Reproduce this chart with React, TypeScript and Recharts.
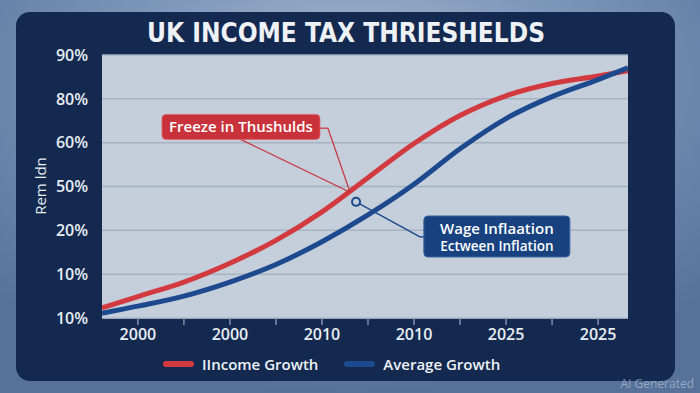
import {
  LineChart,
  Line,
  XAxis,
  YAxis,
  CartesianGrid,
  ReferenceLine,
  ReferenceDot,
} from 'recharts';

// x positions on the year axis (tick index), values on the label-index scale
const xPos = [-0.78, 0, 1, 2, 3, 4, 5, 6, 7, 8, 9, 10, 10.65];
const incomeGrowth = [0.23, 0.49, 0.82, 1.25, 1.77, 2.42, 3.2, 3.98, 4.62, 5.07, 5.35, 5.52, 5.64];
const averageGrowth = [0.11, 0.27, 0.5, 0.82, 1.22, 1.74, 2.35, 3.05, 3.86, 4.55, 5.05, 5.44, 5.71];

const yTickLabels = ['10%', '10%', '20%', '50%', '60%', '80%', '90%'];
const xTickLabels = ['2000', '', '2000', '', '2010', '', '2010', '', '2025', '', '2025'];

const seriesNames = ['IIncome Growth', 'Average Growth'];
const RED = '#d33a40';
const BLUE = '#1d4a8e';
const FONT = '"Open Sans", "DejaVu Sans", sans-serif';

const data = xPos.map((x, i) => ({
  x,
  income: incomeGrowth[i],
  average: averageGrowth[i],
}));

// annotation anchors, in data coordinates
const freezeBox = { x: 2.24, y: 4.36, text: 'Freeze in Thushulds' };
const freezeLines = [
  [{ x: 2.22, y: 4.08 }, { x: 4.61, y: 2.87 }],
  [{ x: 3.96, y: 4.33 }, { x: 4.13, y: 4.33 }],
  [{ x: 4.13, y: 4.33 }, { x: 4.61, y: 2.87 }],
];
const wagePoint = { x: 4.74, y: 2.65 };
const wageLines = [
  [{ x: 4.74, y: 2.65 }, { x: 6.13, y: 1.85 }],
  [{ x: 6.13, y: 1.85 }, { x: 6.24, y: 1.85 }],
];
const wageBox = { x: 7.8, y: 1.86, lines: ['Wage Inflaation', 'Ectween Inflation'] };

function FreezeLabel(props: any) {
  const { cx, cy } = props;
  const w = 158;
  const h = 25;
  return (
    <g>
      <rect x={cx - w / 2} y={cy - h / 2} width={w} height={h} rx={4} fill="#c9323a" stroke="#e0666b" strokeWidth={0.8} />
      <text x={cx} y={cy + 5.5} textAnchor="middle" fill="#ffffff" fontSize={15} fontWeight={600} fontFamily={FONT}>
        {freezeBox.text}
      </text>
    </g>
  );
}

function WageLabel(props: any) {
  const { cx, cy } = props;
  const w = 146;
  const h = 41;
  return (
    <g>
      <rect x={cx - w / 2} y={cy - h / 2} width={w} height={h} rx={4} fill="#17427f" stroke="#3a64a0" strokeWidth={1} />
      <text x={cx} y={cy - 2.5} textAnchor="middle" fill="#ffffff" fontSize={15} fontWeight={600} fontFamily={FONT}>
        {wageBox.lines[0]}
      </text>
      <text x={cx} y={cy + 14.5} textAnchor="middle" fill="#ffffff" fontSize={13.5} fontWeight={600} fontFamily={FONT}>
        {wageBox.lines[1]}
      </text>
    </g>
  );
}

export default function App() {
  return (
    <div
      style={{
        position: 'absolute',
        left: 0,
        top: 0,
        width: 700,
        height: 393,
        overflow: 'hidden',
        background: 'radial-gradient(ellipse 70% 80% at 50% 20%, #a2b5cd 0%, #7a94b7 50%, #56729b 100%)',
        fontFamily: FONT,
      }}
    >
      <div
        style={{
          position: 'absolute',
          left: 16,
          top: 12,
          width: 659,
          height: 369,
          background: '#13294f',
          borderRadius: 14,
        }}
      />
      <div
        style={{
          position: 'absolute',
          left: 0,
          width: 692,
          top: 14,
          textAlign: 'center',
          color: '#eef2f7',
          fontFamily: '"DejaVu Sans Condensed", "DejaVu Sans", sans-serif',
          fontWeight: 700,
          fontSize: 26,
          lineHeight: '38px',
        }}
      >
        UK INCOME TAX THRIESHELDS
      </div>
      <div
        style={{
          position: 'absolute',
          left: 40,
          top: 186,
          transform: 'translate(-50%, -50%) rotate(-90deg)',
          color: '#e6ecf2',
          fontSize: 15,
          whiteSpace: 'nowrap',
        }}
      >
        Rem ldn
      </div>
      <div style={{ position: 'absolute', left: 0, top: 0 }}>
        <LineChart width={700} height={393} data={data} margin={{ top: 55, right: 72, bottom: 45, left: 0 }}>
          <CartesianGrid vertical={false} fill="#c5cfdb" stroke="#a7b2c1" strokeWidth={1.5} />
          <XAxis
            dataKey="x"
            type="number"
            domain={[-0.78, 10.65]}
            ticks={[0, 1, 2, 3, 4, 5, 6, 7, 8, 9, 10]}
            tickFormatter={(v: number) => xTickLabels[v] ?? ''}
            tick={{ fill: '#e8edf3', fontSize: 16, fontWeight: 600, fontFamily: FONT }}
            tickLine={{ stroke: '#8090a8', strokeWidth: 1.5 }}
            tickSize={7}
            tickMargin={4}
            height={30}
            axisLine={{ stroke: '#b9c4d2', strokeWidth: 1 }}
            allowDataOverflow
          />
          <YAxis
            type="number"
            domain={[0, 6]}
            ticks={[0, 1, 2, 3, 4, 5, 6]}
            tickFormatter={(v: number) => yTickLabels[v] ?? ''}
            tick={{ fill: '#e8edf3', fontSize: 16, fontWeight: 600, fontFamily: FONT }}
            width={102}
            tickLine={false}
            tickSize={0}
            tickMargin={14}
            axisLine={false}
          />
          <Line
            type="monotone"
            dataKey="income"
            stroke={RED}
            strokeWidth={5}
            dot={false}
            isAnimationActive={false}
          />
          <Line
            type="monotone"
            dataKey="average"
            stroke={BLUE}
            strokeWidth={5}
            dot={false}
            isAnimationActive={false}
          />
          {freezeLines.map((seg, i) => (
            <ReferenceLine key={'f' + i} segment={seg} stroke="#c9323a" strokeWidth={1.2} />
          ))}
          {wageLines.map((seg, i) => (
            <ReferenceLine key={'w' + i} segment={seg} stroke={BLUE} strokeWidth={1.5} />
          ))}
          <ReferenceDot x={wagePoint.x} y={wagePoint.y} r={4} fill="#c5cfdb" stroke={BLUE} strokeWidth={2} />
          <ReferenceDot x={freezeBox.x} y={freezeBox.y} shape={FreezeLabel} />
          <ReferenceDot x={wageBox.x} y={wageBox.y} shape={WageLabel} />
        </LineChart>
      </div>
      <div
        style={{
          position: 'absolute',
          left: 163,
          top: 354,
          display: 'flex',
          alignItems: 'center',
          color: '#eef2f7',
          fontSize: 15,
          fontWeight: 600,
        }}
      >
        <span style={{ width: 31, height: 6, borderRadius: 3, background: RED, marginRight: 8 }} />
        <span style={{ marginRight: 26 }}>{seriesNames[0]}</span>
        <span style={{ width: 31, height: 6, borderRadius: 3, background: BLUE, marginRight: 8 }} />
        <span>{seriesNames[1]}</span>
      </div>
      <div
        style={{
          position: 'absolute',
          right: 6,
          top: 375,
          color: 'rgba(205,214,228,0.55)',
          fontSize: 12,
        }}
      >
        AI Generated
      </div>
    </div>
  );
}
